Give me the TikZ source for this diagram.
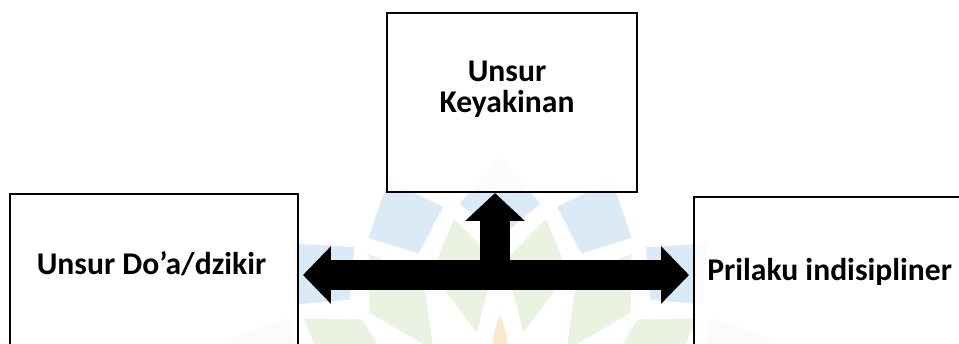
\documentclass[tikz,border=0pt]{standalone}
\usepackage{fontspec}
\setmainfont{Carlito}
\usetikzlibrary{arrows.meta}
\definecolor{wmblue}{RGB}{218,234,246}
\definecolor{wmgreen}{RGB}{234,243,225}
\definecolor{wmflame}{RGB}{251,233,205}
\begin{document}
\begin{tikzpicture}[x=0.02cm, y=-0.02cm,
  box/.style={draw=black, line width=1.15pt, fill=white, fill opacity=0.85, inner sep=0pt},
  lbl/.style={font=\bfseries\fontsize{18}{17.6}\selectfont, align=center, inner sep=0pt},
  bigarrow/.style={line width=0.6cm, -{Triangle[length=0.56cm, width=1.16cm]}},
  dblarrow/.style={line width=0.6cm, {Triangle[length=0.56cm, width=1.12cm]}-{Triangle[length=0.56cm, width=1.12cm]}},
  tile/.style={draw=white, line width=0.08cm, line join=round}]
\useasboundingbox (0,0) rectangle (959,343);
\clip (0,0) rectangle (959,343);
\fill[white] (0,0) rectangle (959,343);

% faint rosette emblem in the background
\begin{scope}[shift={(500,450)}]
  \foreach \k in {0,...,15} {
    \pgfmathsetmacro\a{270+22.5*\k}
    \pgfmathsetmacro\g{\a+11.25}
    \fill[wmblue, tile] (\a:295) -- (\a+10:250) -- (\a:210) -- (\a-10:250) -- cycle;
    \fill[wmgreen, tile] (\g:240) -- (\g+10.5:190) -- (\g:115) -- (\g-10.5:190) -- cycle;
  }
  \fill[wmflame] (0,-135) .. controls (-7,-118) and (-12,-100) .. (0,-85)
                 .. controls (12,-100) and (7,-118) .. (0,-135);
\end{scope}

% boxes
\node[box, minimum width=5cm, minimum height=3.58cm] (top) at (512,102.5) {};
\node[box, minimum width=5.76cm, minimum height=3.24cm] (left) at (154,275) {};
\node[box, minimum width=5.44cm, minimum height=3.12cm] (right) at (830,275) {};

% labels
\node[lbl] (tkey) at (507,89) {Unsur\\Keyakinan};
\node[lbl, anchor=base] (tdoa) at (151.5,274.5) {Unsur Do’a/dzikir};
\node[lbl, anchor=base west] (tpri) at (707,280) {Prilaku indisipliner};

% block arrows
\draw[dblarrow] ([xshift=0.08cm]left.east) -- ([xshift=-0.08cm]right.west);
\coordinate (junc) at (495,275);
\draw[bigarrow] (junc) -- (junc |- top.south);
\end{tikzpicture}
\end{document}
